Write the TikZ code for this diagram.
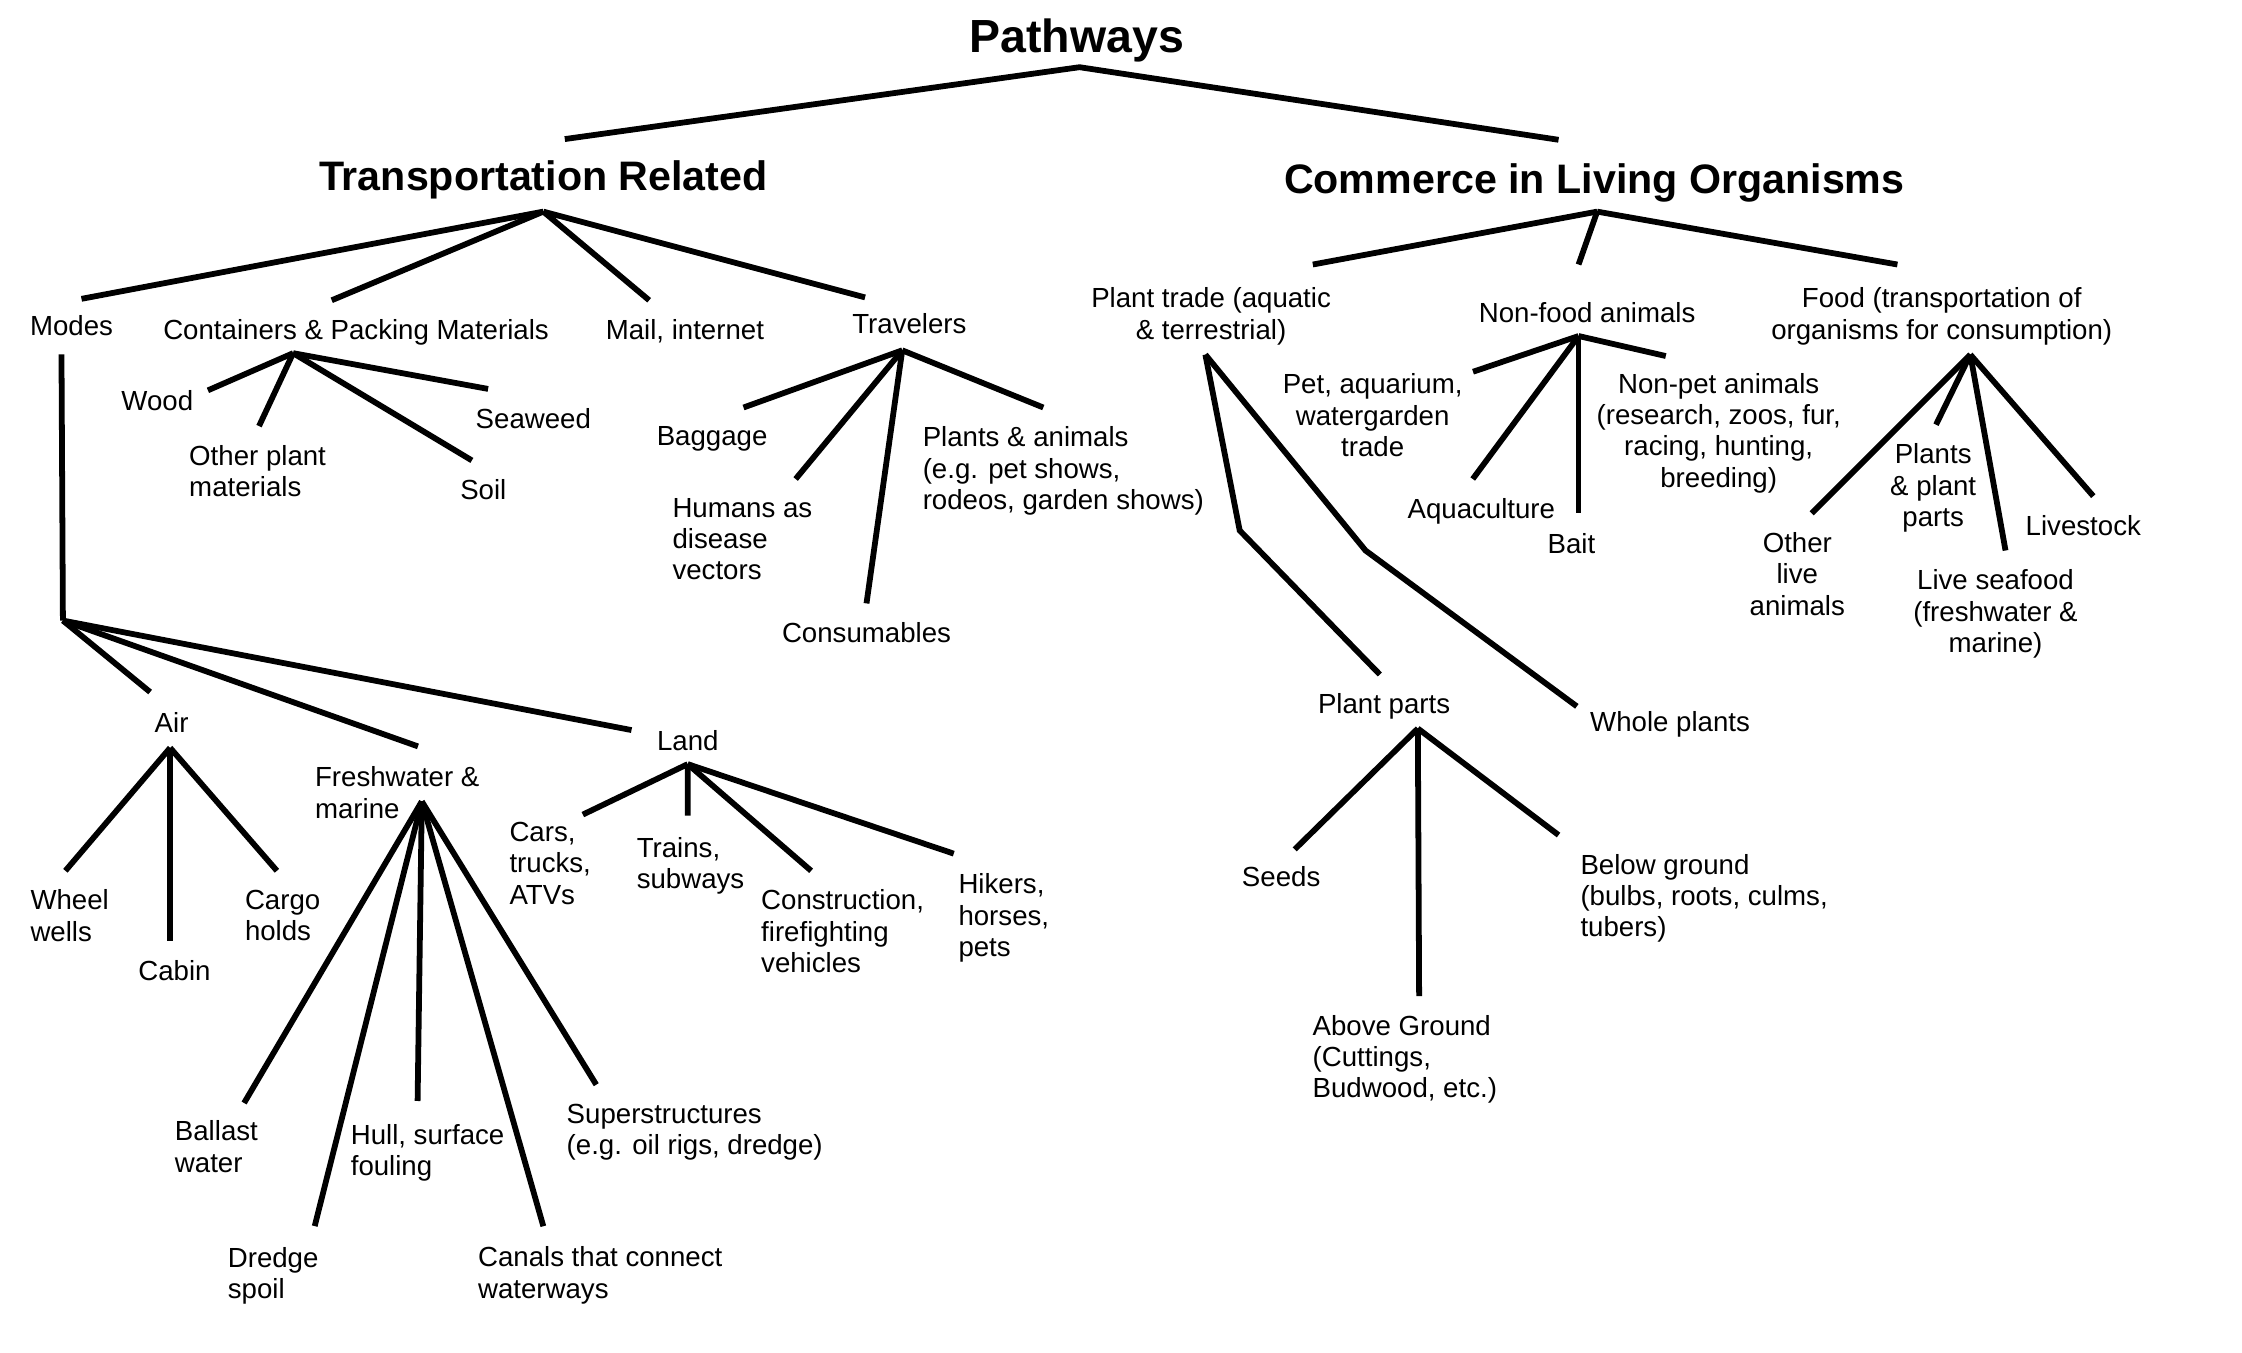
\documentclass[tikz,border=0pt]{standalone}
\usepackage{fontspec}
\setmainfont{Liberation Sans}
\begin{document}
\begin{tikzpicture}[x=0.02cm,y=-0.02cm,
  lbl/.style={inner sep=0pt,font=\fontsize{11}{12.5}\selectfont},
  lblc/.style={lbl,align=center,anchor=north},
  lbll/.style={lbl,align=left,anchor=north west},
  head/.style={inner sep=0pt,font=\bfseries\fontsize{16.4}{19}\selectfont,anchor=base},
  branch/.style={line width=2.3pt}]
\useasboundingbox (0,0) rectangle (1568,946);

\node[head,font=\bfseries\fontsize{18.5}{22}\selectfont] (pw) at (753,36.5) {Pathways};
\node[head] (tr) at (380,133.5) {Transportation Related};
\node[head] (clo) at (1115,135) {Commerce in Living Organisms};

% transportation side
\node[lblc] (modes) at (50,220) {Modes};
\node[lblc] (cont) at (249,223) {Containers \& Packing Materials};
\node[lblc] (mail) at (479,223) {Mail, internet};
\node[lblc] (trav) at (636,219) {Travelers};
\node[lblc] (wood) at (110,273) {Wood};
\node[lbll] (oplant) at (132,311) {Other plant\\materials};
\node[lblc] (soil) at (338,335) {Soil};
\node[lblc] (seaweed) at (373,285) {Seaweed};
\node[lblc] (bag) at (498,298) {Baggage};
\node[lbll] (humans) at (470,348) {Humans as\\disease\\vectors};
\node[lblc] (cons) at (606,435) {Consumables};
\node[lbll] (plani) at (645,298) {Plants \& animals\\(e.g. pet shows,\\rodeos, garden shows)};
\node[lblc] (air) at (120,498) {Air};
\node[lbll] (fresh) at (220,536) {Freshwater \&\\marine};
\node[lblc] (land) at (481,510.6) {Land};
\node[lbll] (wheel) at (21,622) {Wheel\\wells};
\node[lblc] (cabin) at (122,671.6) {Cabin};
\node[lbll] (cargo) at (171,622) {Cargo\\holds};
\node[lbll] (ballast) at (122,783.4) {Ballast\\water};
\node[lbll] (dredge) at (159,872) {Dredge\\spoil};
\node[lbll] (hull) at (245,786) {Hull, surface\\fouling};
\node[lbll] (canals) at (334,871.6) {Canals that connect\\waterways};
\node[lbll] (superst) at (396,771.6) {Superstructures\\(e.g. oil rigs, dredge)};
\node[lbll] (cars) at (356,574.7) {Cars,\\trucks,\\ATVs};
\node[lbll] (trains) at (445,585.4) {Trains,\\subways};
\node[lbll] (constr) at (532,622) {Construction,\\firefighting\\vehicles};
\node[lbll] (hikers) at (670,610.6) {Hikers,\\horses,\\pets};

% commerce side
\node[lblc] (ptrade) at (847,201) {Plant trade (aquatic\\\& terrestrial)};
\node[lblc] (nonfood) at (1110,211) {Non-food animals};
\node[lblc] (food) at (1358,201) {Food (transportation of\\organisms for consumption)};
\node[lblc] (pparts) at (968,484.7) {Plant parts};
\node[lblc] (wplants) at (1168,497.5) {Whole plants};
\node[lblc] (seeds) at (896,605.5) {Seeds};
\node[lbll] (aboveg) at (917.7,709.6) {Above Ground\\(Cuttings,\\Budwood, etc.)};
\node[lbll] (belowg) at (1105,597) {Below ground\\(bulbs, roots, culms,\\tubers)};
\node[lblc] (pet) at (960,261) {Pet, aquarium,\\watergarden\\trade};
\node[lblc] (aqua) at (1036,348) {Aquaculture};
\node[lblc] (bait) at (1099,373) {Bait};
\node[lblc] (nonpet) at (1202,260.5) {Non-pet animals\\(research, zoos, fur,\\racing, hunting,\\breeding)};
\node[lblc] (olive) at (1257,372) {Other\\live\\animals};
\node[lblc] (pplant) at (1352,310) {Plants\\\& plant\\parts};
\node[lblc] (seafood) at (1395.6,398) {Live seafood\\(freshwater \&\\marine)};
\node[lblc] (livestock) at (1457,360) {Livestock};

\coordinate (pwhub) at (755,47);
\coordinate (trhub) at (380,148);
\coordinate (conthub) at (205,247);
\coordinate (travhub) at (631,245);
\coordinate (modeshub) at (44,434);
\coordinate (airhub) at (119,523);
\coordinate (fwhub) at (295,560.5);
\coordinate (landhub) at (481,534.4);
\coordinate (clohub) at (1117,148);
\coordinate (pthub) at (843,248);
\coordinate (ppbend) at (867,371);
\coordinate (wpbend) at (955,385);
\coordinate (pphub) at (991.6,509.5);
\coordinate (nfhub) at (1104,235);
\coordinate (foodhub) at (1378,248);

\draw[branch] ([shift={(15,-15)}]tr.north) -- (pwhub) -- ([shift={(-25,-16)}]clo.north);

\draw[branch] (trhub) -- ([shift={(7,-11)}]modes.north);
\draw[branch] (trhub) -- ([shift={(-17,-13)}]cont.north);
\draw[branch] (trhub) -- ([shift={(-25,-13)}]mail.north);
\draw[branch] (trhub) -- ([shift={(-31,-11)}]trav.north);

\draw[branch] (conthub) -- ([shift={(10,0)}]wood.north east);
\draw[branch] (conthub) -- ([shift={(1,-13)}]oplant.north);
\draw[branch] (conthub) -- ([shift={(-8,-13)}]soil.north);
\draw[branch] (conthub) -- ([shift={(9,-13)}]seaweed.north west);

\draw[branch] (travhub) -- ([shift={(22,-13)}]bag.north);
\draw[branch] (travhub) -- ([shift={(-12,-13)}]humans.north east);
\draw[branch] (travhub) -- ([shift={(0,-13)}]cons.north);
\draw[branch] (travhub) -- ([shift={(-14,-13)}]plani.north);

\draw[branch] ([shift={(-7,13)}]modes.south) -- (modeshub);
\draw[branch] (modeshub) -- ([shift={(-15,-14)}]air.north);
\draw[branch] (modeshub) -- ([shift={(14.5,-14)}]fresh.north);
\draw[branch] (modeshub) -- ([shift={(-17.5,0)}]land.north west);

\draw[branch] (airhub) -- ([shift={(-3,-13)}]wheel.north);
\draw[branch] (airhub) -- ([shift={(-3,-13.6)}]cabin.north);
\draw[branch] (airhub) -- ([shift={(-4,-13)}]cargo.north);

\draw[branch] (fwhub) -- ([shift={(-10,-12)}]ballast.north east);
\draw[branch] (fwhub) -- ([shift={(-3,-14.5)}]dredge.north east);
\draw[branch] (fwhub) -- ([shift={(-7,-16)}]hull.north);
\draw[branch] (fwhub) -- ([shift={(46,-14)}]canals.north west);
\draw[branch] (fwhub) -- ([shift={(21,-13)}]superst.north west);

\draw[branch] (landhub) -- ([shift={(-6,-5)}]cars.north east);
\draw[branch] (landhub) -- ([shift={(-2,-15)}]trains.north);
\draw[branch] (landhub) -- ([shift={(-22,-13)}]constr.north);
\draw[branch] (landhub) -- ([shift={(-3,-13.6)}]hikers.north west);

\draw[branch] (clohub) -- ([shift={(-13,-16)}]ptrade.north east);
\draw[branch] (clohub) -- ([shift={(-6,-26)}]nonfood.north);
\draw[branch] (clohub) -- ([shift={(-31,-16)}]food.north);

\draw[branch] (pthub) -- (ppbend) -- ([shift={(-3,-13)}]pparts.north);
\draw[branch] (pthub) -- (wpbend) -- ([shift={(-9,-3.5)}]wplants.north west);

\draw[branch] (pphub) -- ([shift={(9.5,-11.5)}]seeds.north);
\draw[branch] (pphub) -- ([shift={(10,-13)}]aboveg.north);
\draw[branch] (pphub) -- ([shift={(-15,-13)}]belowg.north west);

\draw[branch] (nfhub) -- ([shift={(7,-1)}]pet.north east);
\draw[branch] (nfhub) -- ([shift={(-6,-13)}]aqua.north);
\draw[branch] (nfhub) -- ([shift={(5,-14)}]bait.north);
\draw[branch] (nfhub) -- ([shift={(-37,-11.5)}]nonpet.north);

\draw[branch] (foodhub) -- ([shift={(10,-13)}]olive.north);
\draw[branch] (foodhub) -- ([shift={(2,-13)}]pplant.north);
\draw[branch] (foodhub) -- ([shift={(7,-13)}]seafood.north);
\draw[branch] (foodhub) -- ([shift={(7,-13)}]livestock.north);
\end{tikzpicture}
\end{document}
